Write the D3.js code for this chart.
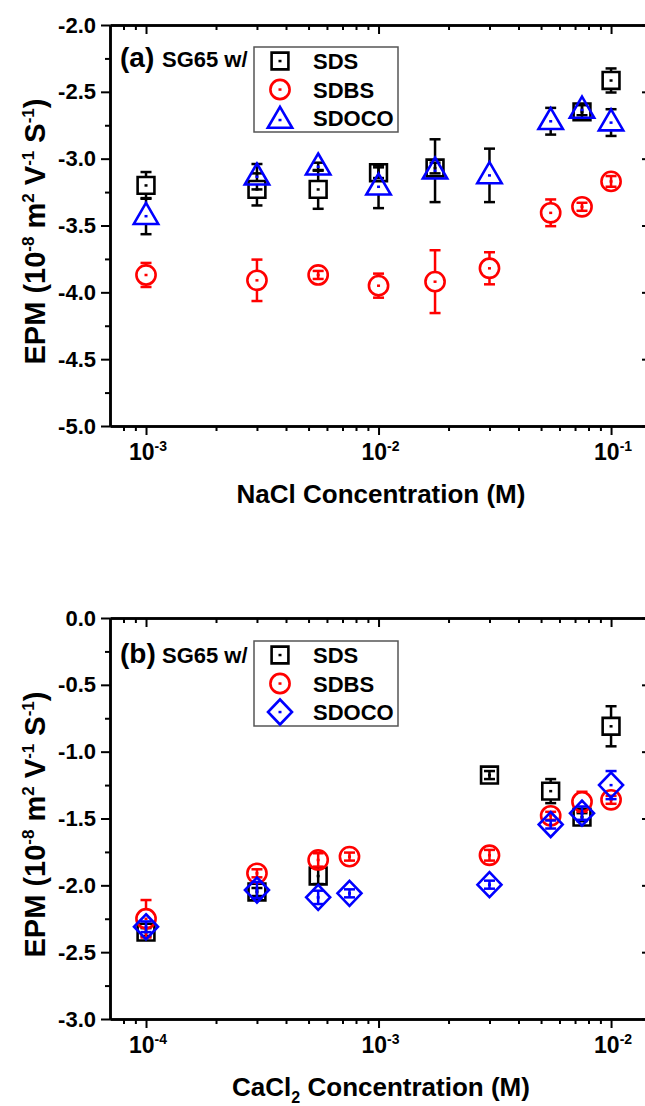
<!DOCTYPE html>
<html>
<head>
<meta charset="utf-8">
<script src="https://cdn.jsdelivr.net/npm/d3@7.9.0/dist/d3.min.js"></script>
<style>
  body { margin: 0; background: #fff; }
  svg text { font-family: "Liberation Sans", Arial, sans-serif; font-weight: bold; fill: #000; }
</style>
</head>
<body>
<svg id="chart"></svg>
<script>
// series names and colours (shared by both panels)
const seriesNames = ["SDS", "SDBS", "SDOCO"];
const seriesColors = ["#000000", "#ff0000", "#0000ff"];

// Panel (a): NaCl
const naclConc = [0.001, 0.003, 0.0055, 0.01, 0.0175, 0.03, 0.055, 0.075, 0.1];
const naclSDS = [-3.20, -3.23, -3.23, -3.105, -3.07, null, null, -2.65, -2.415];
const naclSDSErr = [0.10, 0.12, 0.145, 0.04, 0.04, 0, 0, 0.05, 0.09];
const naclSDBS = [-3.87, -3.91, -3.87, -3.95, -3.92, -3.82, -3.405, -3.36, -3.17];
const naclSDBSErr = [0.09, 0.155, 0.03, 0.09, 0.235, 0.12, 0.10, 0.03, 0.04];
const naclSDOCO = [-3.43, -3.135, -3.06, -3.21, -3.09, -3.125, -2.72, -2.635, -2.73];
const naclSDOCOErr = [0.135, 0.095, 0.03, 0.16, 0.235, 0.20, 0.10, 0.04, 0.10];
const naclXTicks = [1e-3, 1e-2, 1e-1];
const naclXExp = ["-3", "-2", "-1"];
const naclYTicks = [-5.0, -4.5, -4.0, -3.5, -3.0, -2.5, -2.0];

// Panel (b): CaCl2
const caclConc = [0.0001, 0.0003, 0.00055, 0.00075, 0.003, 0.0055, 0.0075, 0.01];
const caclSDS = [-2.35, -2.05, -1.93, null, -1.175, -1.295, -1.49, -0.81];
const caclSDSErr = [0.03, 0.03, 0.06, 0, 0.03, 0.09, 0.03, 0.15];
const caclSDBS = [-2.25, -1.91, -1.81, -1.785, -1.775, -1.48, -1.375, -1.36];
const caclSDBSErr = [0.14, 0.03, 0.05, 0.03, 0.04, 0.03, 0.075, 0.03];
const caclSDOCO = [-2.31, -2.035, -2.09, -2.06, -1.995, -1.545, -1.46, -1.25];
const caclSDOCOErr = [0.04, 0.06, 0.05, 0.03, 0.03, 0.03, 0.05, 0.105];
const caclXTicks = [1e-4, 1e-3, 1e-2];
const caclXExp = ["-4", "-3", "-2"];
const caclYTicks = [-3.0, -2.5, -2.0, -1.5, -1.0, -0.5, 0.0];

const W = 645, H = 1106;
const left = 110, right = 652;

const svg = d3.select("#chart").attr("width", W).attr("height", H);
svg.append("rect").attr("width", W).attr("height", H).attr("fill", "#fff");

// symbol paths, with the vertical gap each leaves for error bars
const shapes = {
    square: { d: "M-8.4,-8.4H8.4V8.4H-8.4Z", up: 8.4, down: 8.4 },
    circle: { d: "M9.6,0A9.6,9.6 0 1,1 -9.6,0A9.6,9.6 0 1,1 9.6,0Z", up: 9.6, down: 9.6 },
    triangle: { d: "M0,-13.2L12.2,7.8H-12.2Z", up: 13.2, down: 7.8 },
    diamond: { d: "M0,-12.5L12,0L0,12.5L-12,0Z", up: 12.5, down: 12.5 }
};

function drawPanel(cfg) {
    const g = svg.append("g");
    const x = d3.scaleLog().domain(cfg.xDomain).range([left, right]);
    const y = d3.scaleLinear().domain(cfg.yDomain).range([cfg.bottom, cfg.top]);

    // minor ticks for the log axis
    const minor = [];
    for (let e = Math.floor(Math.log10(cfg.xDomain[0])); e <= Math.ceil(Math.log10(cfg.xDomain[1])); e++) {
        for (let k = 2; k <= 9; k++) {
            const v = k * Math.pow(10, e);
            if (v >= cfg.xDomain[0] * 1.0001 && v <= cfg.xDomain[1]) minor.push(v);
        }
    }
    const yMinor = cfg.yTicks.slice(1).map(d => d - 0.25);

    function styleAxis(sel) {
        sel.select(".domain").attr("stroke-width", 2.5).attr("stroke", "#000");
        sel.selectAll(".tick line").attr("stroke-width", 2).attr("stroke", "#000");
        sel.attr("font-family", null).attr("font-size", null);
    }

    // bottom
    g.append("g").attr("transform", `translate(0,${cfg.bottom})`)
        .call(d3.axisBottom(x).tickValues(cfg.xTicks).tickSizeInner(9).tickSizeOuter(0).tickFormat(""))
        .call(styleAxis);
    g.append("g").attr("transform", `translate(0,${cfg.bottom})`)
        .call(d3.axisBottom(x).tickValues(minor).tickSizeInner(5).tickSizeOuter(0).tickFormat(""))
        .call(styleAxis);
    // top (inward)
    g.append("g").attr("transform", `translate(0,${cfg.top})`)
        .call(d3.axisTop(x).tickValues(cfg.xTicks).tickSizeInner(-9).tickSizeOuter(0).tickFormat(""))
        .call(styleAxis);
    g.append("g").attr("transform", `translate(0,${cfg.top})`)
        .call(d3.axisTop(x).tickValues(minor).tickSizeInner(-5).tickSizeOuter(0).tickFormat(""))
        .call(styleAxis);
    // left
    g.append("g").attr("transform", `translate(${left},0)`)
        .call(d3.axisLeft(y).tickValues(cfg.yTicks).tickSizeInner(9).tickSizeOuter(0).tickPadding(5)
            .tickFormat(d => d.toFixed(1)))
        .call(styleAxis)
        .selectAll(".tick text").style("font-size", "22px");
    g.append("g").attr("transform", `translate(${left},0)`)
        .call(d3.axisLeft(y).tickValues(yMinor).tickSizeInner(5).tickSizeOuter(0).tickFormat(""))
        .call(styleAxis);
    // right (inward)
    g.append("g").attr("transform", `translate(${right},0)`)
        .call(d3.axisRight(y).tickValues(cfg.yTicks).tickSizeInner(-10).tickSizeOuter(0).tickFormat(""))
        .call(styleAxis);
    g.append("g").attr("transform", `translate(${right},0)`)
        .call(d3.axisRight(y).tickValues(yMinor).tickSizeInner(-5).tickSizeOuter(0).tickFormat(""))
        .call(styleAxis);

    // x tick labels with superscript exponents
    g.selectAll(".xlab").data(cfg.xTicks).join("text")
        .attr("x", d => x(d) + 2)
        .attr("y", cfg.bottom + 34)
        .attr("text-anchor", "middle")
        .style("font-size", "23px")
        .each(function(d, i) {
            const t = d3.select(this);
            t.append("tspan").text("10");
            t.append("tspan").attr("dy", -9).style("font-size", "14px").text(cfg.xExp[i]);
        });

    // x title
    const xt = g.append("text")
        .attr("x", (left + right) / 2)
        .attr("y", cfg.bottom + 77)
        .attr("text-anchor", "middle")
        .style("font-size", "26px");
    cfg.xTitle.forEach(p => {
        const ts = xt.append("tspan").text(p.t);
        if (p.sub) ts.attr("dy", 7).style("font-size", "16px");
        if (p.back) ts.attr("dy", -7);
    });

    // y title
    const yt = g.append("text")
        .attr("transform", `translate(45,${(cfg.top + cfg.bottom) / 2 + 6})rotate(-90)`)
        .attr("text-anchor", "middle")
        .style("font-size", "29px");
    const yParts = [["EPM (10", 0], ["-8", 1], [" m", 0], ["2", 1], [" V", 0], ["-1", 1], [" S", 0], ["-1", 1], [")", 0]];
    let prevSup = 0;
    yParts.forEach(([t, sup]) => {
        const ts = yt.append("tspan").text(t);
        if (sup && !prevSup) ts.attr("dy", -11).style("font-size", "17px");
        if (!sup && prevSup) ts.attr("dy", 11);
        prevSup = sup;
    });

    // data: error bars then markers, series in order
    cfg.series.forEach((s, si) => {
        const shape = shapes[s.shape];
        const pts = cfg.conc.map((c, i) => ({ c, v: s.values[i], e: s.err[i] })).filter(p => p.v !== null);
        const eg = g.append("g").attr("stroke", s.errColor).attr("stroke-width", 2.5).attr("fill", "none");
        pts.forEach(p => {
            const cx = x(p.c), cy = y(p.v);
            const yTop = y(p.v + p.e), yBot = y(p.v - p.e);
            if (p.e <= 0) return;
            const y1 = (cy - yTop > shape.up) ? cy - shape.up : cy;
            const y2 = (yBot - cy > shape.down) ? cy + shape.down : cy;
            eg.append("line").attr("x1", cx).attr("x2", cx).attr("y1", y1).attr("y2", yTop);
            eg.append("line").attr("x1", cx).attr("x2", cx).attr("y1", y2).attr("y2", yBot);
            eg.append("line").attr("x1", cx - 5.5).attr("x2", cx + 5.5).attr("y1", yTop).attr("y2", yTop);
            eg.append("line").attr("x1", cx - 5.5).attr("x2", cx + 5.5).attr("y1", yBot).attr("y2", yBot);
        });
        const mg = g.append("g");
        mg.selectAll("path").data(pts).join("path")
            .attr("transform", p => `translate(${x(p.c)},${y(p.v)})`)
            .attr("d", shape.d)
            .attr("fill", "none")
            .attr("stroke", s.color)
            .attr("stroke-width", 2.6);
        mg.selectAll("rect").data(pts).join("rect")
            .attr("x", p => x(p.c) - 1.5).attr("y", p => y(p.v) - 1.2)
            .attr("width", 3).attr("height", 2.5)
            .attr("fill", s.color);
    });

    // panel label
    g.append("text").attr("x", 120).attr("y", cfg.top + cfg.labelDy)
        .style("font-size", "28px").text(cfg.label);
    g.append("text").attr("x", 162).attr("y", cfg.top + cfg.labelDy)
        .style("font-size", "22px").text("SG65 w/");

    // legend
    const ly = cfg.top + cfg.legendDy;
    g.append("rect").attr("x", 254).attr("y", ly).attr("width", 144).attr("height", 85)
        .attr("fill", "#fff").attr("stroke", "#555").attr("stroke-width", 1.5);
    cfg.series.forEach((s, si) => {
        const ry = ly + 14 + si * 28.5;
        const sh = shapes[s.shape];
        const off = s.shape === "triangle" ? 2 : 0;
        g.append("path").attr("transform", `translate(280,${ry + off})`)
            .attr("d", sh.d).attr("fill", "none").attr("stroke", s.color).attr("stroke-width", 2.6);
        g.append("rect").attr("x", 278.5).attr("y", ry - 1.2 + off)
            .attr("width", 3).attr("height", 2.5).attr("fill", s.color);
        g.append("text").attr("x", 313).attr("y", ry + 8).style("font-size", "22px").text(seriesNames[si]);
    });
}

drawPanel({
    top: 25, bottom: 426,
    xDomain: [7e-4, 0.15], yDomain: [-5, -2],
    xTicks: naclXTicks, xExp: naclXExp, yTicks: naclYTicks,
    conc: naclConc,
    xTitle: [{ t: "NaCl Concentration (M)" }],
    label: "(a)", labelDy: 42, legendDy: 22,
    series: [
        { values: naclSDS, err: naclSDSErr, shape: "square", color: seriesColors[0], errColor: "#000" },
        { values: naclSDBS, err: naclSDBSErr, shape: "circle", color: seriesColors[1], errColor: "#ff0000" },
        { values: naclSDOCO, err: naclSDOCOErr, shape: "triangle", color: seriesColors[2], errColor: "#000" }
    ]
});

drawPanel({
    top: 618, bottom: 1019,
    xDomain: [7e-5, 0.015], yDomain: [-3, 0],
    xTicks: caclXTicks, xExp: caclXExp, yTicks: caclYTicks,
    conc: caclConc,
    xTitle: [{ t: "CaCl" }, { t: "2", sub: true }, { t: " Concentration (M)", back: true }],
    label: "(b)", labelDy: 45, legendDy: 23,
    series: [
        { values: caclSDS, err: caclSDSErr, shape: "square", color: seriesColors[0], errColor: "#000" },
        { values: caclSDBS, err: caclSDBSErr, shape: "circle", color: seriesColors[1], errColor: "#ff0000" },
        { values: caclSDOCO, err: caclSDOCOErr, shape: "diamond", color: seriesColors[2], errColor: "#0000ff" }
    ]
});
</script>
</body>
</html>
